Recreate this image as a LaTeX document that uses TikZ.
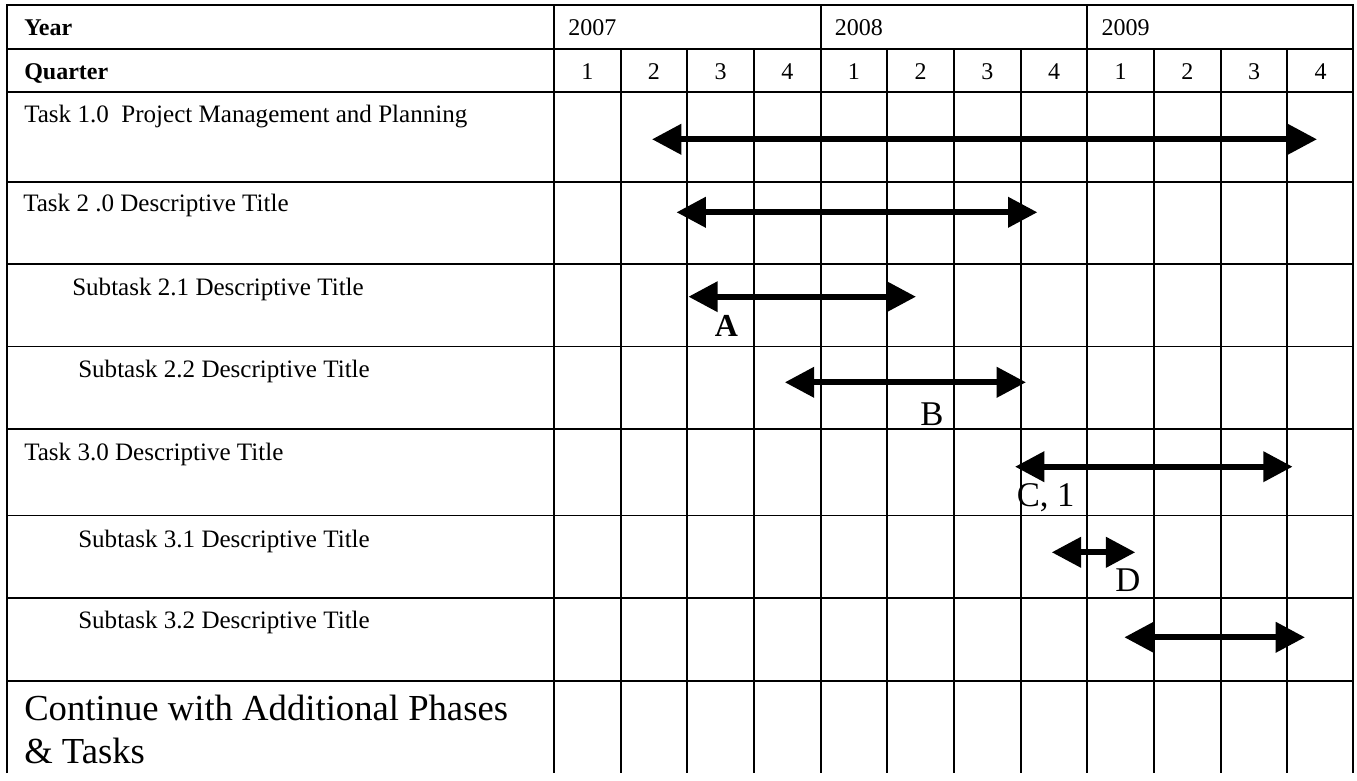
\documentclass[tikz,border=0pt]{standalone}
\usepackage{fontspec}
\setmainfont{Liberation Serif}
\usetikzlibrary{arrows.meta,positioning}
\tikzset{
  grd/.style  ={line width=1.4pt},
  cell/.style ={anchor=base west,inner sep=0pt,
                 font=\fontsize{18pt}{21pt}\selectfont},
  task/.style ={cell,font=\fontsize{18.8pt}{22pt}\selectfont},
  hdr/.style  ={cell,font=\fontsize{18pt}{21pt}\selectfont\bfseries},
  qtr/.style  ={cell,anchor=base},
  more/.style ={cell,align=left,font=\fontsize{27.5pt}{32pt}\selectfont},
  tag/.style  ={cell,font=\fontsize{26pt}{30pt}\selectfont},
  tagb/.style ={cell,font=\fontsize{24pt}{28pt}\selectfont\bfseries},
  dur/.style  ={{Triangle[length=22pt,width=22pt]}-{Triangle[length=22pt,width=22pt]},
                 line width=4.5pt},
}

\begin{document}
\begin{tikzpicture}[x=0.75pt,y=-0.75pt]
  \useasboundingbox (0,0) rectangle (1357,781);
  % grid
  \draw[grd] (7,773) |- (1353,5) -- (1353,773);
  \foreach \y in {49,92,182,264,346.5,429,515.5,598,681}
    \draw[grd] (7,\y) -- (1353,\y);
  \foreach \x in {554,820.7,1087.3}
    \draw[grd] (\x,5) -- (\x,773);
  \foreach \i in {1,...,11}
    \draw[grd] ({554+66.67*\i},49) -- ({554+66.67*\i},773);

  % header rows
  \node[hdr]  (year) at (24,36)    {Year};
  \node[hdr]  (quar) at (24,80)    {Quarter};
  \node[cell] (y07)  at (568,36)   {2007};
  \node[cell] (y08)  at (834.7,36) {2008};
  \node[cell] (y09)  at (1101.3,36){2009};
  \foreach \n [count=\i from 0] in {1,2,3,4,1,2,3,4,1,2,3,4}
    \node[qtr] (q\i) at ({587.3+66.67*\i},80) {\n};

  % tasks
  \node[task] (t1)  at (24,122.7) {Task 1.0\ \ Project Management and Planning};
  \node[task] (t2)  at (23,212)   {Task 2 .0 Descriptive Title};
  \node[task] (s21) at (72,295)   {Subtask 2.1 Descriptive Title};
  \node[task] (s22) at (78,377.5) {Subtask 2.2 Descriptive Title};
  \node[task] (t3)  at (24,460)   {Task 3.0 Descriptive Title};
  \node[task] (s31) at (78,547)   {Subtask 3.1 Descriptive Title};
  \node[task] (s32) at (78,628.5) {Subtask 3.2 Descriptive Title};
  \node[more] (cont) at (24,763)  {Continue with Additional Phases\\\& Tasks};

  % bars
  \coordinate (a1l) at (652,139.3);   \coordinate (a1r) at (1317,139.3);
  \coordinate (a2l) at (676.5,212.3); \coordinate (a2r) at (1037.4,212.3);
  \coordinate (a3l) at (688.4,296.7); \coordinate (a3r) at (916,296.7);
  \coordinate (a4l) at (784.8,382.3); \coordinate (a4r) at (1026,382.3);
  \coordinate (a5l) at (1015,466.7);  \coordinate (a5r) at (1292.6,466.7);
  \coordinate (a6l) at (1051.7,552.3);\coordinate (a6r) at (1135.3,552.3);
  \coordinate (a7l) at (1124.3,637.3);\coordinate (a7r) at (1305,637.3);
  \draw[dur] (a1l) -- (a1r);
  \draw[dur] (a2l) -- (a2r);
  \draw[dur] (a3l) -- (a3r);
  \draw[dur] (a4l) -- (a4r);
  \draw[dur] (a5l) -- (a5r);
  \draw[dur] (a6l) -- (a6r);
  \draw[dur] (a7l) -- (a7r);

  % milestones
  \node[tagb] (ma) at (714.5,336.7) {A};
  \node[tag]  (mb) at (920,425.7)   {B};
  \node[tag]  (mc) at (1016.5,506)  {C, 1};
  \node[tag]  (md) at (1115,591.7)  {D};
\end{tikzpicture}
\end{document}
